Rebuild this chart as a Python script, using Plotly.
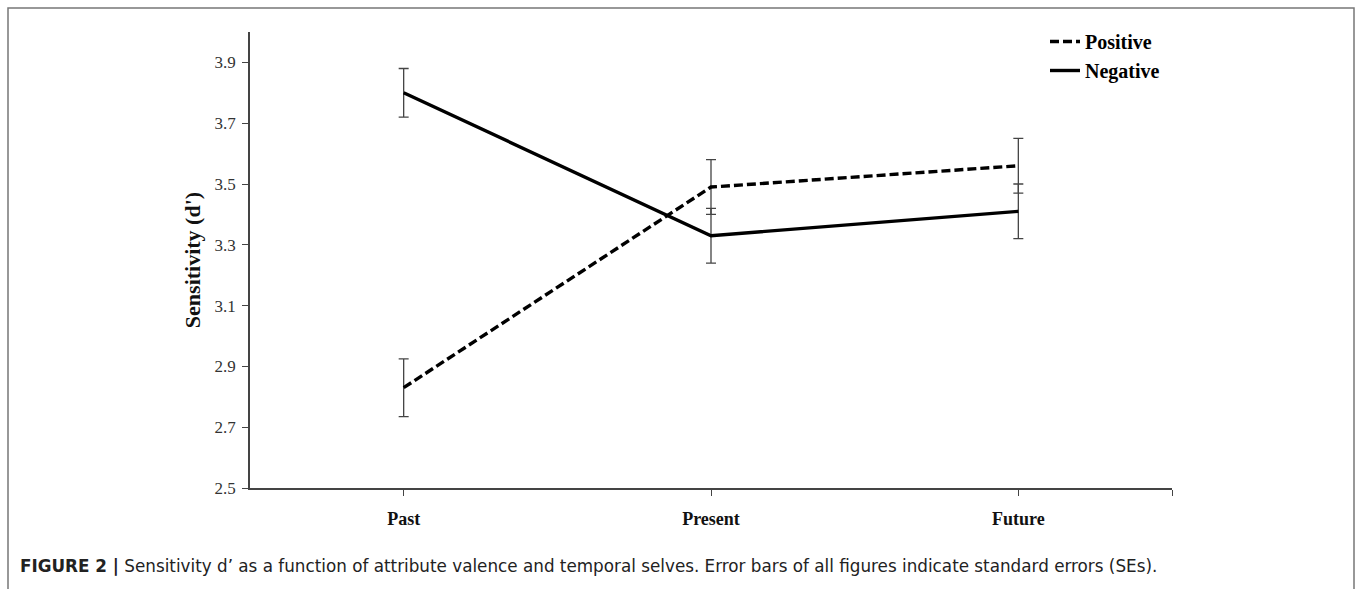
import plotly.graph_objects as go

categories = ["Past", "Present", "Future"]
positive = [2.83, 3.49, 3.56]
positive_se = [0.095, 0.09, 0.09]
negative = [3.80, 3.33, 3.41]
negative_se = [0.08, 0.09, 0.09]
y_ticks = [2.5, 2.7, 2.9, 3.1, 3.3, 3.5, 3.7, 3.9]
y_tick_labels = ["2.5", "2.7", "2.9", "3.1", "3.3", "3.5", "3.7", "3.9"]

xpos = list(range(len(categories)))
serif = "Liberation Serif, Times New Roman, serif"

fig = go.Figure()
fig.add_trace(go.Scatter(
    x=xpos, y=positive, name="Positive", mode="lines",
    line=dict(color="black", width=3.4, dash="9px,4px"),
    error_y=dict(type="data", array=positive_se, visible=True,
                 color="#444", thickness=1.3, width=5),
))
fig.add_trace(go.Scatter(
    x=xpos, y=negative, name="Negative", mode="lines",
    line=dict(color="black", width=3.4),
    error_y=dict(type="data", array=negative_se, visible=True,
                 color="#444", thickness=1.3, width=5),
))

L, R, T, B = 250, 186, 32, 101
W, H = 1358, 589
pw, ph = W - L - R, H - T - B

def px_x(px):
    return (px - L) / pw

def px_y(py):
    return 1 - (py - T) / ph

fig.update_layout(
    width=W, height=H,
    margin=dict(l=L, r=R, t=T, b=B, pad=0),
    paper_bgcolor="white", plot_bgcolor="white",
    showlegend=True,
    legend=dict(
        x=px_x(1045), y=px_y(22), xanchor="left", yanchor="top",
        font=dict(family=serif, size=20, color="black", weight="bold"),
        bgcolor="rgba(0,0,0,0)", itemwidth=30, tracegroupgap=0,
    ),
    xaxis=dict(
        range=[-0.5, 2.5], tickvals=xpos + [2.5],
        ticktext=categories + [""],
        showline=True, linecolor="#444", linewidth=1.6,
        ticks="outside", ticklen=6, tickcolor="#444", tickwidth=1.3,
        showgrid=False, zeroline=False,
        tickfont=dict(family=serif, size=18, color="#111", weight="bold"),
        ticklabelstandoff=8,
    ),
    yaxis=dict(
        range=[2.5, 4.0], tickvals=y_ticks, ticktext=y_tick_labels,
        showline=True, linecolor="#444", linewidth=1.6,
        ticks="outside", ticklen=6, tickcolor="#444", tickwidth=1.3,
        showgrid=False, zeroline=False,
        tickfont=dict(family=serif, size=17, color="#333"),
        ticklabelstandoff=3,
        title=dict(text="Sensitivity (d')",
                   font=dict(family=serif, size=22, color="#111", weight="bold"),
                   standoff=8),
    ),
)

fig.add_shape(
    type="rect", xref="paper", yref="paper",
    x0=px_x(8), x1=px_x(1354), y0=px_y(600), y1=px_y(8),
    line=dict(color="#777", width=1.5), fillcolor="rgba(0,0,0,0)", layer="below",
)

fig.add_annotation(
    xref="paper", yref="paper", x=px_x(18), y=px_y(566),
    xanchor="left", yanchor="middle", showarrow=False,
    text="<b>FIGURE 2 |</b> Sensitivity d\u2019 as a function of attribute valence and temporal selves. "
         "Error bars of all figures indicate standard errors (SEs).",
    font=dict(family="DejaVu Sans, Arial, sans-serif", size=16.8, color="#222"),
)

fig.write_html("out.html")
